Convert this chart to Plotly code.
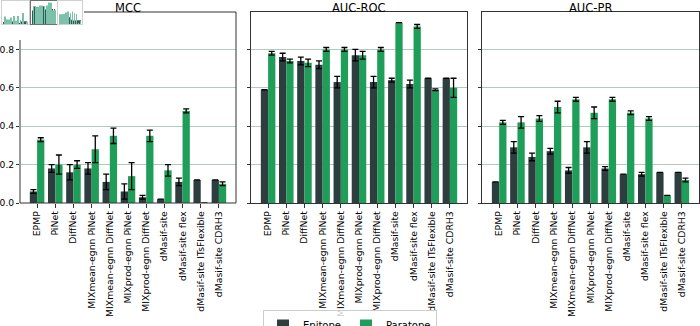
import plotly.graph_objects as go

categories = ["EPMP", "PiNet", "DiffNet", "MIXmean-egnn PiNet", "MIXmean-egnn DiffNet",
              "MIXprod-egnn PiNet", "MIXprod-egnn DiffNet", "dMasif-site", "dMasif-site flex",
              "dMasif-site ITsFlexible", "dMasif-site CDRH3"]
metrics = ["MCC", "AUC-ROC", "AUC-PR"]

mcc_epi = [0.06, 0.18, 0.16, 0.18, 0.11, 0.06, 0.03, 0.02, 0.11, 0.12, 0.12]
mcc_epi_err = [0.01, 0.02, 0.04, 0.03, 0.04, 0.04, 0.01, 0.0, 0.02, 0.0, 0.0]
mcc_para = [0.33, 0.20, 0.20, 0.28, 0.35, 0.14, 0.35, 0.17, 0.48, 0.0, 0.10]
mcc_para_err = [0.01, 0.05, 0.02, 0.07, 0.04, 0.07, 0.03, 0.03, 0.01, 0.0, 0.01]

roc_epi = [0.59, 0.76, 0.74, 0.72, 0.63, 0.77, 0.63, 0.64, 0.62, 0.65, 0.65]
roc_epi_err = [0.0, 0.02, 0.02, 0.02, 0.03, 0.03, 0.03, 0.01, 0.02, 0.0, 0.0]
roc_para = [0.78, 0.74, 0.73, 0.80, 0.80, 0.77, 0.80, 0.94, 0.92, 0.59, 0.60]
roc_para_err = [0.01, 0.01, 0.02, 0.01, 0.01, 0.02, 0.01, 0.0, 0.01, 0.005, 0.05]

pr_epi = [0.11, 0.29, 0.24, 0.27, 0.17, 0.29, 0.18, 0.15, 0.15, 0.16, 0.16]
pr_epi_err = [0.0, 0.03, 0.02, 0.015, 0.015, 0.03, 0.01, 0.0, 0.01, 0.0, 0.0]
pr_para = [0.42, 0.42, 0.44, 0.50, 0.54, 0.47, 0.54, 0.47, 0.44, 0.04, 0.12]
pr_para_err = [0.01, 0.03, 0.015, 0.03, 0.01, 0.03, 0.01, 0.01, 0.01, 0.0, 0.01]

y_ticks = [0.0, 0.2, 0.4, 0.6, 0.8]

EPI_COLOR = "#2e3d3d"
PARA_COLOR = "#1f9e59"
GRID = "#b3c9c0"
SPINE = "#333333"
FONT = "DejaVu Sans"

data = [
    (mcc_epi, mcc_epi_err, mcc_para, mcc_para_err),
    (roc_epi, roc_epi_err, roc_para, roc_para_err),
    (pr_epi, pr_epi_err, pr_para, pr_para_err),
]

W, H = 700, 326
x_domains = [[20/W, 236/W], [251/W, 467/W], [482/W, 699/W]]
y_domain = [(H-203)/H, (H-12)/H]

fig = go.Figure()
xs = list(range(len(categories)))
for i, (e, ee, p, pe) in enumerate(data):
    suffix = "" if i == 0 else str(i + 1)
    for name, vals, errs, col, off in [("Epitope", e, ee, EPI_COLOR, -0.2), ("Paratope", p, pe, PARA_COLOR, 0.2)]:
        fig.add_trace(go.Bar(
            x=[v + off for v in xs], y=vals, width=0.4, name=name,
            marker=dict(color=col, line=dict(width=0)),
            error_y=dict(type="data", array=errs, visible=True, color="black", thickness=1.3, width=3),
            xaxis="x" + suffix, yaxis="y" + suffix,
            showlegend=(i == 0), legendgroup=name,
        ))
    ax = dict(domain=x_domains[i], range=[-0.94, 10.94], tickmode="array", tickvals=xs,
              ticktext=categories, tickangle=-90, ticks="outside", ticklen=3.5, tickwidth=0.8,
              tickcolor=SPINE, showline=(i > 0), linecolor=SPINE, linewidth=1, mirror=True,
              showgrid=False, zeroline=False, tickfont=dict(family=FONT, size=9.3, color="black"),
              anchor="y" + suffix)
    ay = dict(domain=y_domain, range=[0, 0.995], tickmode="array", tickvals=y_ticks,
              ticktext=[f"{t:.1f}" for t in y_ticks], ticks="outside", ticklen=3, tickwidth=0.8,
              tickcolor=SPINE, showline=(i > 0), linecolor=SPINE, linewidth=1, mirror=True,
              showgrid=True, gridcolor=GRID, gridwidth=1, zeroline=False,
              showticklabels=(i == 0), tickfont=dict(family=FONT, size=9.2, color="black"),
              anchor="x" + suffix)
    fig.layout["xaxis" + suffix] = ax
    fig.layout["yaxis" + suffix] = ay
    fig.add_annotation(text=metrics[i], x=sum(x_domains[i]) / 2, y=1.0, xref="paper", yref="paper",
                       xanchor="center", yanchor="top", yshift=1, showarrow=False,
                       font=dict(family=FONT, size=11.5, color="black"))

# spines of first panel, partly hidden by the thumbnail in the corner
x0, x1 = x_domains[0]
y0, y1 = y_domain
gap_x, gap_y = 84/W, (H-40)/H
fig.add_shape(type="line", xref="paper", yref="paper", x0=x0, x1=x0, y0=y0, y1=gap_y,
              line=dict(color="#9a9a9a", width=2), layer="above")
fig.add_shape(type="line", xref="paper", yref="paper", x0=gap_x, x1=x1, y0=y1, y1=y1,
              line=dict(color=SPINE, width=1), layer="above")
fig.add_shape(type="line", xref="paper", yref="paper", x0=x1, x1=x1, y0=y0, y1=y1,
              line=dict(color=SPINE, width=1), layer="above")
fig.add_shape(type="line", xref="paper", yref="paper", x0=x0, x1=x1, y0=y0, y1=y0,
              line=dict(color=SPINE, width=1), layer="above")

# small thumbnail inset in the top-left corner
mini_x = [[2/W, 29/W], [31/W, 57/W], [58/W, 82/W]]
mini_y = [(H-24)/H, (H-1)/H]
mini_border = ["#d0d0d0", "#707070", "#d0d0d0"]
for i, (e, ee, p, pe) in enumerate(data):
    n = str(i + 4)
    for vals, col, off in [(e, "#2c5c56", -0.2), (p, "#7cc2aa", 0.2)]:
        fig.add_trace(go.Bar(x=[v + off for v in xs], y=vals, width=0.4, marker=dict(color=col, line=dict(width=0)),
                             xaxis="x" + n, yaxis="y" + n, showlegend=False, hoverinfo="skip"))
    fig.layout["xaxis" + n] = dict(domain=mini_x[i], range=[-0.94, 10.94], showticklabels=False,
                                   showgrid=False, zeroline=False, showline=True, mirror=True,
                                   linecolor=mini_border[i], linewidth=1, anchor="y" + n)
    fig.layout["yaxis" + n] = dict(domain=mini_y, range=[0, 1.0], showticklabels=False,
                                   showgrid=False, zeroline=False, showline=True, mirror=True,
                                   linecolor=mini_border[i], linewidth=1, anchor="x" + n)

fig.update_layout(
    width=W, height=H, margin=dict(l=0, r=0, t=0, b=0, autoexpand=False),
    paper_bgcolor="white", plot_bgcolor="white", barmode="overlay",
    font=dict(family=FONT, size=11, color="black"),
    legend=dict(orientation="h", x=0.5, xanchor="center", y=(H-310)/H, yanchor="top",
                bordercolor="#cccccc", borderwidth=1, font=dict(family=FONT, size=10),
                itemwidth=30, tracegroupgap=0, bgcolor="rgba(255,255,255,0.8)"),
)
fig.write_html("out.html")
